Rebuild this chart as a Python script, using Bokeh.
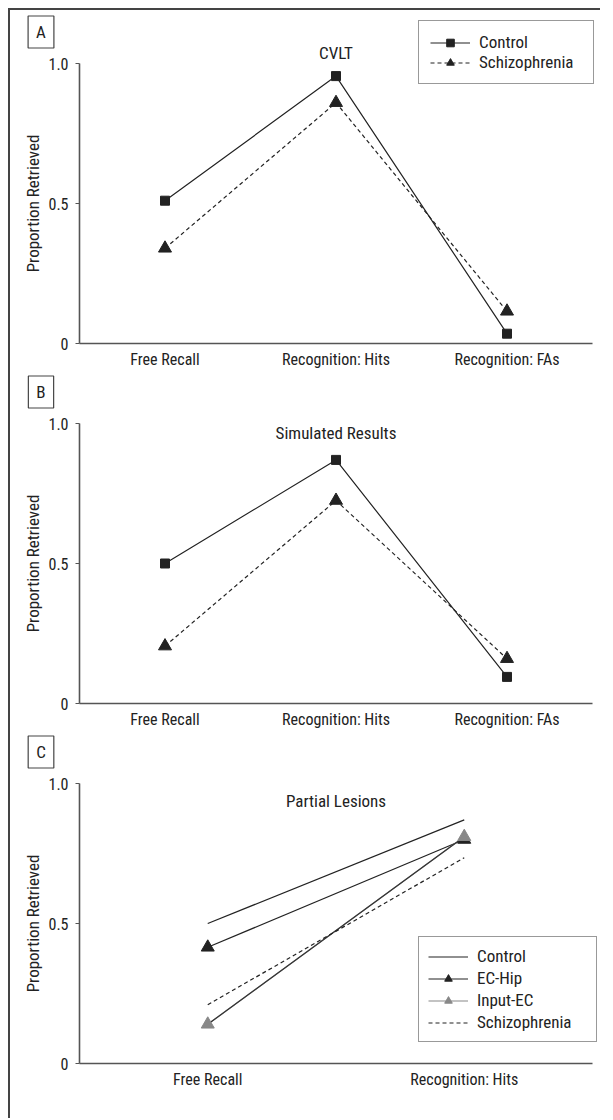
from bokeh.plotting import figure
from bokeh.layouts import column
from bokeh.models import (Range1d, FixedTicker, Label, Legend, LegendItem,
                          ColumnDataSource, LinearAxis)
from bokeh.embed import file_html
from bokeh.resources import INLINE

# ---------------- data ----------------
categories_ab = ["Free Recall", "Recognition: Hits", "Recognition: FAs"]
cvlt_control = [0.51, 0.955, 0.035]
cvlt_schizophrenia = [0.34, 0.86, 0.115]
sim_control = [0.50, 0.87, 0.095]
sim_schizophrenia = [0.205, 0.725, 0.16]

categories_c = ["Free Recall", "Recognition: Hits"]
lesion_control = [0.50, 0.87]
lesion_ec_hip = [0.415, 0.80]
lesion_input_ec = [0.14, 0.81]
lesion_schizophrenia = [0.21, 0.735]

y_ticks = [0, 0.5, 1.0]
y_tick_labels = ["0", "0.5", "1.0"]

FONT = "Roboto Condensed"
INK = "#222222"
AXIS = "#555555"
GRAY = "#888888"

FIG_W = 590
AX_LEFT = 69        # px from figure left to the y axis
AX_W = 513          # px length of the x axis
TOP = 53            # px from figure top to y = 1.0
PX_Y = 280          # px per unit on y


def make_panel(cats, letter, title, title_x, title_y, fig_h):
    n = len(cats)
    pxu = AX_W / n
    x0 = -0.5 - AX_LEFT / pxu
    x1 = x0 + FIG_W / pxu
    y1 = 1.0 + TOP / PX_Y
    y0 = y1 - fig_h / PX_Y
    p = figure(width=FIG_W, height=fig_h, min_border=0,
               x_range=Range1d(x0, x1), y_range=Range1d(y0, y1),
               x_axis_location=None, y_axis_location=None,
               output_backend="svg", toolbar_location=None)
    p.outline_line_color = None
    p.xgrid.visible = False
    p.ygrid.visible = False
    p.background_fill_color = "white"
    p.border_fill_color = "white"

    xa = LinearAxis(fixed_location=0, bounds=(-0.5, n - 0.5))
    xa.ticker = FixedTicker(ticks=list(range(n)))
    xa.major_label_overrides = {i: c for i, c in enumerate(cats)}
    xa.major_tick_line_color = None
    xa.minor_tick_line_color = None
    xa.major_tick_out = 0
    xa.major_tick_in = 0
    xa.major_label_standoff = 6
    xa.axis_line_color = AXIS
    xa.axis_line_width = 1.6
    xa.major_label_text_font = FONT
    xa.major_label_text_font_size = "16px"
    xa.major_label_text_color = INK
    p.add_layout(xa, "below")

    ya = LinearAxis(fixed_location=-0.5, bounds=(0, 1.0))
    ya.ticker = FixedTicker(ticks=y_ticks)
    ya.major_label_overrides = {t: s for t, s in zip(y_ticks, y_tick_labels)}
    ya.minor_tick_line_color = None
    ya.major_tick_out = 4
    ya.major_tick_in = 0
    ya.major_tick_line_color = AXIS
    ya.major_tick_line_width = 1.2
    ya.major_label_standoff = 7
    ya.axis_line_color = AXIS
    ya.axis_line_width = 1.6
    ya.major_label_text_font = FONT
    ya.major_label_text_font_size = "16px"
    ya.major_label_text_color = INK
    ya.axis_label = "Proportion Retrieved"
    ya.axis_label_text_font = FONT
    ya.axis_label_text_font_size = "17px"
    ya.axis_label_text_font_style = "normal"
    ya.axis_label_text_color = INK
    ya.axis_label_standoff = 2
    p.add_layout(ya, "left")

    p.add_layout(Label(x=title_x, y=title_y, text=title, text_align="center",
                       text_baseline="middle", text_font=FONT,
                       text_font_size="17px", text_color=INK))
    p.add_layout(Label(x=30.5, y=fig_h - 21.5, x_units="screen", y_units="screen",
                       text=letter, text_align="center", text_baseline="middle",
                       text_font=FONT, text_font_size="17px", text_color=INK,
                       border_line_color="#444444", border_line_width=1.2,
                       background_fill_color="white", padding=(8, 6)))
    return p


def legend_box(items, loc, pad, spacing, item_h, label_w):
    lg = Legend(items=items, location=loc, padding=pad, spacing=spacing, margin=0,
                glyph_width=40, glyph_height=item_h, label_height=item_h,
                label_width=label_w, label_standoff=9,
                border_line_color="#333333", border_line_width=1.2,
                background_fill_color="white", background_fill_alpha=1.0,
                label_text_font=FONT, label_text_font_size="17px", label_text_color=INK)
    return lg


def two_series(p, cats, ctrl, schiz):
    xs = list(range(len(cats)))
    sc = ColumnDataSource(dict(x=xs, y=ctrl))
    ss = ColumnDataSource(dict(x=xs, y=schiz))
    l1 = p.line("x", "y", source=sc, line_color=INK, line_width=1.2)
    m1 = p.scatter("x", "y", source=sc, marker="square", size=9,
                   fill_color=INK, line_color=INK)
    l2 = p.line("x", "y", source=ss, line_color=INK, line_width=1.2, line_dash="4 3")
    m2 = p.scatter("x", "y", source=ss, marker="triangle", size=13,
                   fill_color=INK, line_color=INK)
    return [l1, m1], [l2, m2]


# Panel A
pa = make_panel(categories_ab, "A", "CVLT", 1, 1.039, 360)
ca, sa = two_series(pa, categories_ab, cvlt_control, cvlt_schizophrenia)
pa.add_layout(legend_box([LegendItem(label="Control", renderers=ca),
                          LegendItem(label="Schizophrenia", renderers=sa)],
                         (408, 286), 11, 0, 19, 103), "center")

# Panel B
pb = make_panel(categories_ab, "B", "Simulated Results", 1, 0.965, 360)
two_series(pb, categories_ab, sim_control, sim_schizophrenia)

# Panel C
C_H = 388
pc = make_panel(categories_c, "C", "Partial Lesions", 0.5, 0.938, C_H)
xc = list(range(len(categories_c)))
s_ctrl = ColumnDataSource(dict(x=xc, y=lesion_control))
s_ec = ColumnDataSource(dict(x=xc, y=lesion_ec_hip))
s_in = ColumnDataSource(dict(x=xc, y=lesion_input_ec))
s_sz = ColumnDataSource(dict(x=xc, y=lesion_schizophrenia))
r_ctrl = pc.line("x", "y", source=s_ctrl, line_color=INK, line_width=1.2)
r_ec_l = pc.line("x", "y", source=s_ec, line_color=INK, line_width=1.2)
# gray line used as the legend key, drawn under the dark plotted line
r_in_key = pc.line("x", "y", source=s_in, line_color=GRAY, line_width=1.2)
r_in_l = pc.line("x", "y", source=s_in, line_color="#333333", line_width=1.2)
r_sz = pc.line("x", "y", source=s_sz, line_color=INK, line_width=1.2, line_dash="4 3")
r_ec_m = pc.scatter("x", "y", source=s_ec, marker="triangle", size=13,
                    fill_color=INK, line_color=INK)
r_in_m = pc.scatter("x", "y", source=s_in, marker="triangle", size=13,
                    fill_color=GRAY, line_color=GRAY)
pc.add_layout(legend_box([LegendItem(label="Control", renderers=[r_ctrl]),
                          LegendItem(label="EC-Hip", renderers=[r_ec_l, r_ec_m]),
                          LegendItem(label="Input-EC", renderers=[r_in_key, r_in_m]),
                          LegendItem(label="Schizophrenia", renderers=[r_sz])],
                         (408, C_H - 312), 9, 2, 19, 110), "center")

layout = column(pa, pb, pc, spacing=0, margin=(8, 0, 0, 8),
                styles={"border-left": "2px solid #444444",
                        "border-top": "2px solid #444444"})

open("out.html", "w").write(file_html(layout, INLINE))
